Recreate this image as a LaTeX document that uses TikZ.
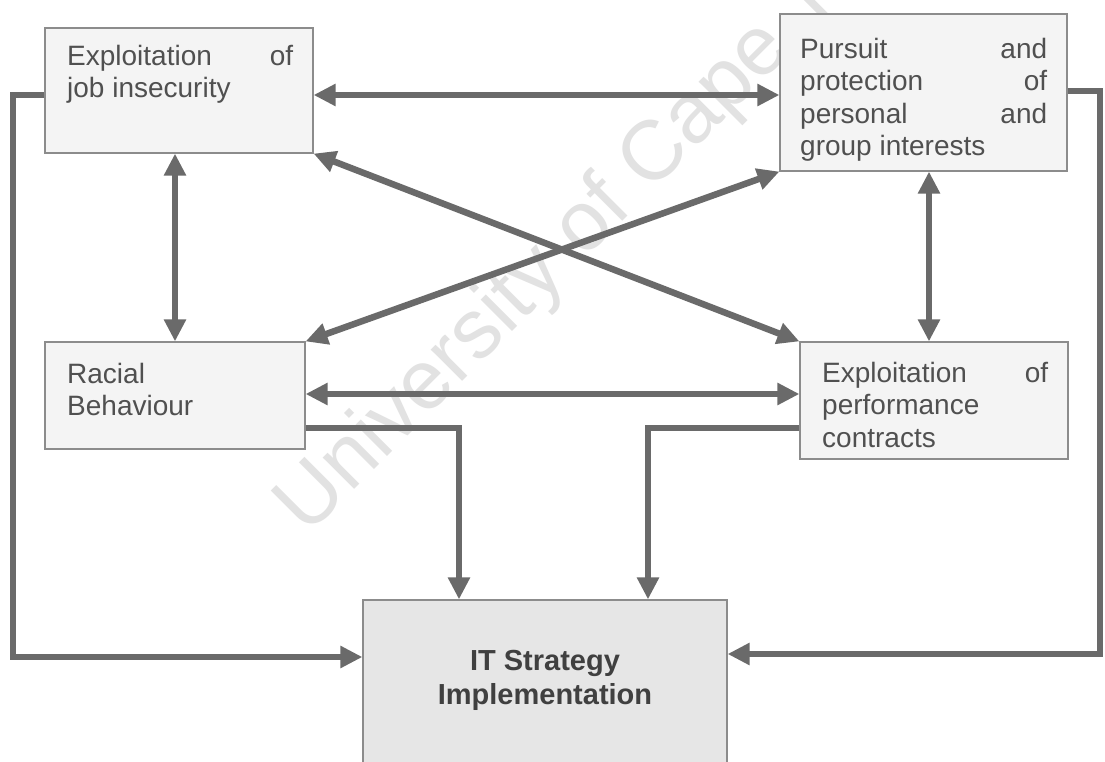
\documentclass[tikz,border=0pt]{standalone}
\usepackage{fontspec}
\setmainfont{Liberation Sans}
\usetikzlibrary{arrows.meta}
\definecolor{boxline}{HTML}{8C8C8C}
\definecolor{boxfill}{HTML}{F4F4F4}
\definecolor{goalfill}{HTML}{E6E6E6}
\definecolor{flow}{HTML}{6A6A6A}
\definecolor{wmark}{HTML}{E2E2E2}
\definecolor{ink}{HTML}{505050}

\begin{document}
\begin{tikzpicture}[x=1pt,y=-1pt,
  factor/.style={draw=boxline,line width=1.2pt,fill=boxfill,rectangle,inner sep=0pt},
  goal/.style={draw=boxline,line width=1.2pt,fill=goalfill,rectangle,inner sep=0pt},
  boxtext/.style={anchor=north west,inner sep=0pt,align=justify,text=ink,
    font={\fontsize{28}{32.5}\selectfont\parindent=0pt}},
  link/.style={draw=flow,line width=6.5pt,-{Triangle[length=22pt,width=21pt]}},
  both/.style={link,{Triangle[length=22pt,width=21pt]}-{Triangle[length=22pt,width=21pt]}},
]
\clip (0,0) rectangle (1105,762);
\fill[white] (0,0) rectangle (1105,762);

% faint diagonal watermark behind the diagram
\node[rotate=45,anchor=base west,inner sep=0pt,text=wmark,
  font=\fontsize{84}{84}\selectfont] (wm) at (307,537) {University of Cape Town};

% factor boxes
\node[factor,minimum width=268pt,minimum height=125pt] (b1) at (179,90.5) {};
\node[factor,minimum width=287pt,minimum height=157pt] (b2) at (923.5,92.5) {};
\node[factor,minimum width=260pt,minimum height=107pt] (b3) at (175,395.5) {};
\node[factor,minimum width=268pt,minimum height=117pt] (b4) at (934,400.5) {};
\node[goal,minimum width=364pt,minimum height=170pt] (b5) at (545,685) {};

% box texts
\node[boxtext,text width=226pt] (t1) at (67,45)
  {Exploitation of\linebreak job insecurity};
\node[boxtext,text width=247pt] (t2) at (800,38)
  {Pursuit and\linebreak protection of\linebreak personal and\linebreak group interests};
\node[boxtext,text width=220pt] (t3) at (67,363)
  {Racial\newline Behaviour};
\node[boxtext,text width=226pt] (t4) at (822,362)
  {Exploitation of\linebreak performance\newline contracts};
\node[align=center,inner sep=0pt,text=black!75,
  font={\fontsize{29}{34}\selectfont\bfseries}] (t5) at (545,680)
  {IT Strategy\\Implementation};

% mutual influences
\draw[both] (b1.east |- 0,95) -- (b2.west |- 0,95);
\draw[both] (b1.south -| 175,0) -- (b3.north -| 175,0);
\draw[both] (b2.south -| 929,0) -- (b4.north -| 929,0);
\draw[both] (b1.south east) -- (b4.north west);
\draw[both] (b2.south west) -- (b3.north east);
\draw[both] (b3.east |- 0,394) -- (b4.west |- 0,394);

% influences on implementation
\draw[link] (b3.east |- 0,428) -| (b5.north -| 459,0);
\draw[link] (b4.west |- 0,428) -| (b5.north -| 648,0);
\coordinate (ltop) at (13,95);
\coordinate (lbot) at (13,657);
\coordinate (rtop) at (1100,91);
\coordinate (rbot) at (1100,654);
\draw[link] (b1.west |- ltop) -- (ltop) -- (lbot) -- (b5.west |- lbot);
\draw[link] (b2.east |- rtop) -- (rtop) -- (rbot) -- (b5.east |- rbot);
\end{tikzpicture}
\end{document}
